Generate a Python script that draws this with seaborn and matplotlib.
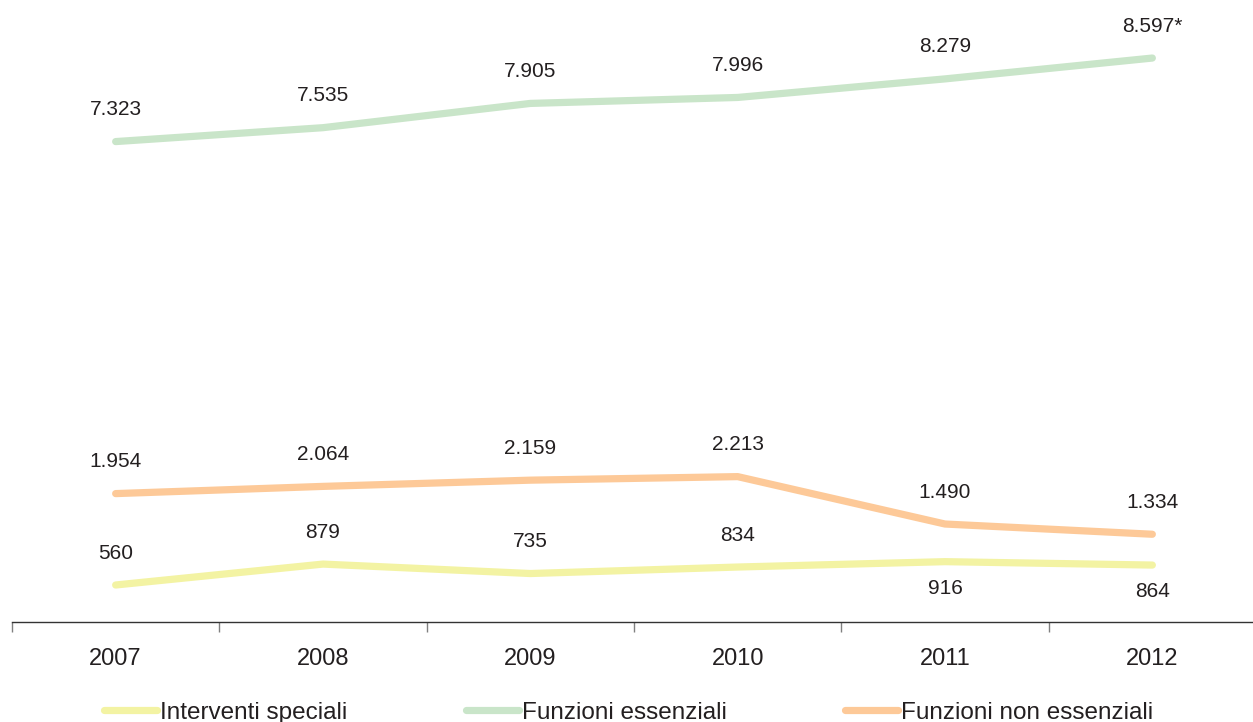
import pandas as pd
import matplotlib.pyplot as plt
import seaborn as sns

# --- data ---
years = ['2007', '2008', '2009', '2010', '2011', '2012']
interventi_speciali = [560, 879, 735, 834, 916, 864]
funzioni_essenziali = [7323, 7535, 7905, 7996, 8279, 8597]
funzioni_non_essenziali = [1954, 2064, 2159, 2213, 1490, 1334]
series_names = ['Interventi speciali', 'Funzioni essenziali', 'Funzioni non essenziali']
series_colors = ['#f3f3a3', '#c9e5c9', '#fdc998']

df = pd.DataFrame({
    'anno': years * 3,
    'valore': interventi_speciali + funzioni_essenziali + funzioni_non_essenziali,
    'serie': [n for n in series_names for _ in years],
})

sns.set_style('white')
plt.rcParams['font.family'] = ['Liberation Sans', 'DejaVu Sans']

fig = plt.figure(figsize=(12.53, 7.22), dpi=100)
ax = fig.add_axes([12 / 1253, 0.1389, 1244 / 1253, 0.8173])

sns.lineplot(data=df, x='anno', y='valore', hue='serie', hue_order=series_names,
             palette=series_colors, linewidth=5.2, ax=ax, legend=False,
             solid_capstyle='round')

# value labels
def fmt(v):
    return f'{v:,}'.replace(',', '.')

below = {('Interventi speciali', '2011'), ('Interventi speciali', '2012')}
for name, vals in zip(series_names, [interventi_speciali, funzioni_essenziali, funzioni_non_essenziali]):
    for i, (yr, v) in enumerate(zip(years, vals)):
        txt = fmt(v)
        if name == 'Funzioni essenziali' and yr == '2012':
            txt += '*'
        if (name, yr) in below:
            ax.annotate(txt, (i, v), xytext=(0, -19), textcoords='offset points',
                        ha='center', va='center', fontsize=15, color='#231f20')
        else:
            ax.annotate(txt, (i, v), xytext=(0, 23), textcoords='offset points',
                        ha='center', va='center', fontsize=15, color='#231f20')

ax.set_xlim(-0.5, 5.5)
ax.set_ylim(0, 9000)
ax.set_xticks(range(len(years)))
ax.set_xticklabels(years, fontsize=17, color='#231f20')
ax.set_xticks([i - 0.5 for i in range(len(years) + 1)], minor=True)
ax.tick_params(axis='x', which='major', length=0, pad=19)
ax.tick_params(axis='x', which='minor', length=7, width=1, color='#808080', direction='out', bottom=True)
ax.set_yticks([])
ax.set_xlabel('')
ax.set_ylabel('')
for s in ['left', 'top', 'right']:
    ax.spines[s].set_visible(False)
ax.spines['bottom'].set_color('#333333')
ax.spines['bottom'].set_linewidth(1)

handles = [plt.Line2D([], [], color=c, linewidth=5.2, solid_capstyle='round') for c in series_colors]
fig.legend(handles, series_names, loc='center left', bbox_to_anchor=(104 / 1253, 0.013),
           ncol=3, frameon=False, fontsize=17.5, handlelength=2.2, handletextpad=0.12,
           columnspacing=4.85, borderpad=0, borderaxespad=0, labelcolor='#231f20')

fig.savefig('out.png', dpi=100)
